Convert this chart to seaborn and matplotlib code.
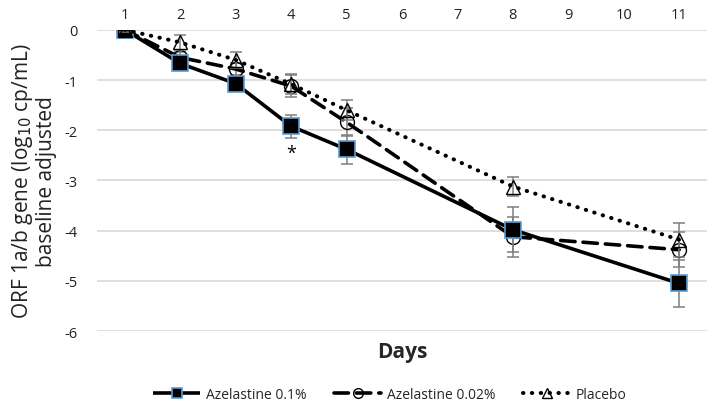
import matplotlib
matplotlib.use("Agg")
import matplotlib.pyplot as plt
import seaborn as sns
import pandas as pd

days = [1, 2, 3, 4, 5, 8, 11]
aze_01 = [0.0, -0.67, -1.07, -1.92, -2.38, -3.98, -5.05]
aze_01_err = [0.05, 0.08, 0.12, 0.23, 0.29, 0.45, 0.46]
aze_002 = [0.0, -0.55, -0.78, -1.12, -1.84, -4.12, -4.38]
aze_002_err = [0.05, 0.10, 0.12, 0.22, 0.28, 0.40, 0.35]
placebo = [0.0, -0.25, -0.60, -1.08, -1.60, -3.12, -4.18]
placebo_err = [0.05, 0.15, 0.15, 0.20, 0.20, 0.18, 0.34]
series_names = ["Azelastine 0.1%", "Azelastine 0.02%", "Placebo"]
x_ticks = list(range(1, 12))
y_ticks = [0, -1, -2, -3, -4, -5, -6]

sns.set_theme(style="white")
plt.rcParams['font.family'] = ['Open Sans', 'DejaVu Sans']

fig = plt.figure(figsize=(7.09, 4.06), dpi=100)
ax = fig.add_axes([0.137, 0.182, 0.860, 0.742])

styles = {
    "Azelastine 0.02%": dict(ls=(0, (4, 2.2)), lw=2.6, marker="o", ms=10, mfc="none", mec="black", mew=1.0, z=3),
    "Azelastine 0.1%": dict(ls="-", lw=2.6, marker="s", ms=11.5, mfc="black", mec="#5b9bd5", mew=1.2, z=4),
    "Placebo": dict(ls=(0, (0.1, 2.1)), lw=2.9, marker="^", ms=10, mfc="none", mec="black", mew=1.0, z=5),
}
data = {"Azelastine 0.1%": (aze_01, aze_01_err),
        "Azelastine 0.02%": (aze_002, aze_002_err),
        "Placebo": (placebo, placebo_err)}

for name in ["Azelastine 0.02%", "Azelastine 0.1%", "Placebo"]:
    vals, errs = data[name]
    st = styles[name]
    df = pd.DataFrame({"day": days, "val": vals})
    ax.errorbar(days, vals, yerr=errs, fmt="none", ecolor="#7f7f7f", elinewidth=1.1,
                capsize=4, capthick=1.1, zorder=st["z"] - 0.5)
    sns.lineplot(data=df, x="day", y="val", ax=ax, color="black", linestyle=st["ls"],
                 linewidth=st["lw"], marker=st["marker"], markersize=st["ms"],
                 markerfacecolor=st["mfc"], markeredgecolor=st["mec"],
                 markeredgewidth=st["mew"], zorder=st["z"], label=name,
                 dash_capstyle="round", solid_capstyle="butt")

ax.text(4, -2.44, "*", ha="center", va="center", fontsize=13, color="black")

ax.set_xlim(0.5, 11.5)
ax.set_ylim(-6, 0)
ax.set_xticks(x_ticks)
ax.set_xticklabels([str(t) for t in x_ticks])
ax.set_yticks(y_ticks)
ax.set_yticklabels([str(t) for t in y_ticks])
ax.xaxis.tick_top()
ax.tick_params(axis="x", length=0, pad=6, labelsize=10.5, colors="#222222")
ax.tick_params(axis="y", length=0, pad=14, labelsize=10.5, colors="#222222")
ax.grid(axis="y", color="#d9d9d9", linewidth=1.2)
ax.grid(axis="x", visible=False)
for s in ax.spines.values():
    s.set_visible(False)

ax.set_xlabel("")
ax.set_ylabel("ORF 1a/b gene (log$_{10}$ cp/mL)\nbaseline adjusted", fontsize=15,
              color="#222222", linespacing=1.1, labelpad=5)
fig.text(0.567, 0.133, "Days", ha="center", va="center", fontsize=15, fontweight="bold")

handles, labels = ax.get_legend_handles_labels()
order = [labels.index(n) for n in series_names]
leg = ax.legend([handles[i] for i in order], [labels[i] for i in order],
                loc="center", bbox_to_anchor=(0.55, 0.026), bbox_transform=fig.transFigure,
                ncol=3, frameon=False, fontsize=10, handlelength=3.4, columnspacing=2.0,
                handletextpad=0.4)
for h in leg.legend_handles:
    h.set_markersize(7)

fig.savefig("out.png", dpi=100)
